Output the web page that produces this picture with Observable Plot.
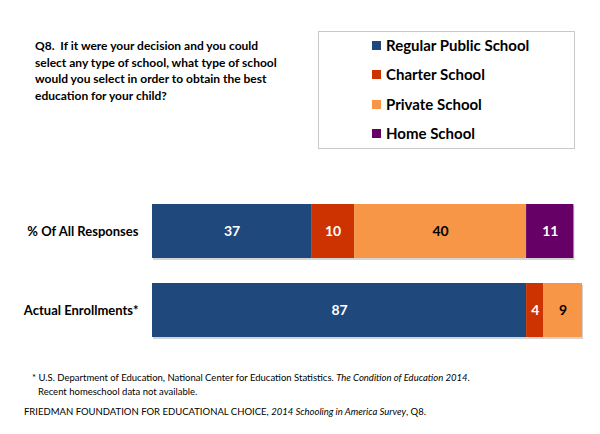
<!DOCTYPE html>
<html>
<head>
<meta charset="utf-8">
<script src="https://cdn.jsdelivr.net/npm/d3@7"></script>
<script src="https://cdn.jsdelivr.net/npm/@observablehq/plot@0.6"></script>
<style>
  html, body { margin: 0; padding: 0; background: #fff; }
  body { font-family: Lato, "Open Sans", sans-serif; color: #000; }
  #wrap { position: relative; width: 600px; height: 434px; overflow: hidden; }
  #question { position: absolute; left: 35px; top: 38px; width: 280px; font-size: 12px; font-weight: bold; line-height: 16.7px; white-space: nowrap; }
  #legend { position: absolute; left: 318px; top: 31px; width: 257px; height: 118px; border: 1px solid #c8c8c8; box-sizing: border-box; }
  .item { position: absolute; left: 53px; font-size: 15px; font-weight: bold; line-height: 18px; white-space: nowrap; }
  .sw { display: inline-block; width: 9px; height: 9px; margin-right: 5px; vertical-align: 1px; }
  #chart { position: absolute; left: 0; top: 190px; }
  #foot { position: absolute; left: 0; top: 371px; font-size: 9.5px; line-height: 13.5px; }
  #foot i { font-style: italic; }
</style>
</head>
<body>
<div id="wrap">
  <div id="question">Q8.&nbsp; If it were your decision and you could<br>select any type of school, what type of school<br>would you select in order to obtain the best<br>education for your child?</div>
  <div id="legend"></div>
  <div id="chart"></div>
  <div id="foot">
    <div style="margin-left:32px">* U.S. Department of Education, National Center for Education Statistics. <i>The Condition of Education 2014</i>.</div>
    <div style="margin-left:38px">Recent homeschool data not available.</div>
    <div style="margin-left:24px; margin-top:7px">FRIEDMAN FOUNDATION FOR EDUCATIONAL CHOICE, <i>2014 Schooling in America Survey</i>, Q8.</div>
  </div>
</div>
<script>
const rows = ["% Of All Responses", "Actual Enrollments*"];
const types = ["Regular Public School", "Charter School", "Private School", "Home School"];
const colors = ["#1F497D", "#CC3300", "#F79646", "#660066"];
const labelColors = ["white", "white", "black", "white"];
const responses = [37, 10, 40, 11];
const enrollments = [87, 4, 9, 0];

const table = [];
[responses, enrollments].forEach((vals, r) => {
  vals.forEach((v, i) => {
    if (v > 0) table.push({row: rows[r], type: types[i], value: v, ink: labelColors[i]});
  });
});

// legend
const legend = document.getElementById("legend");
types.forEach((t, i) => {
  const d = document.createElement("div");
  d.className = "item";
  d.style.top = (4 + i * 29.3) + "px";
  d.innerHTML = `<span class="sw" style="background:${colors[i]}"></span>${t}`;
  legend.appendChild(d);
});

const textOpts = (ink) => Plot.filter(d => d.ink === ink,
  Plot.stackX({x: "value", y: "row", z: "type", order: null, text: d => String(d.value), fill: ink, fontSize: 14, fontWeight: "bold"}));

const chart = Plot.plot({
  width: 600,
  height: 160,
  marginLeft: 152,
  marginRight: 18,
  marginTop: 14,
  marginBottom: 13,
  x: {domain: [0, 100], axis: null},
  y: {domain: rows, paddingInner: 0.32, paddingOuter: 0, label: null, axis: null},
  color: {domain: types, range: colors},
  style: {fontFamily: "Lato, 'Open Sans', sans-serif", fontSize: "13px", fontWeight: "bold", color: "#000"},
  marks: [
    Plot.barX(table, Plot.stackX({x: "value", y: "row", z: "type", order: null, fill: "#d4d4d4", dx: 1, dy: 2})),
    Plot.barX(table, Plot.stackX({x: "value", y: "row", fill: "type", order: null})),
    Plot.text(table, textOpts("white")),
    Plot.text(table, textOpts("black")),
    Plot.axisY({tickSize: 0, tickPadding: 14, fontSize: 13, fontWeight: "bold", label: null})
  ]
});
document.getElementById("chart").appendChild(chart);
</script>
</body>
</html>
